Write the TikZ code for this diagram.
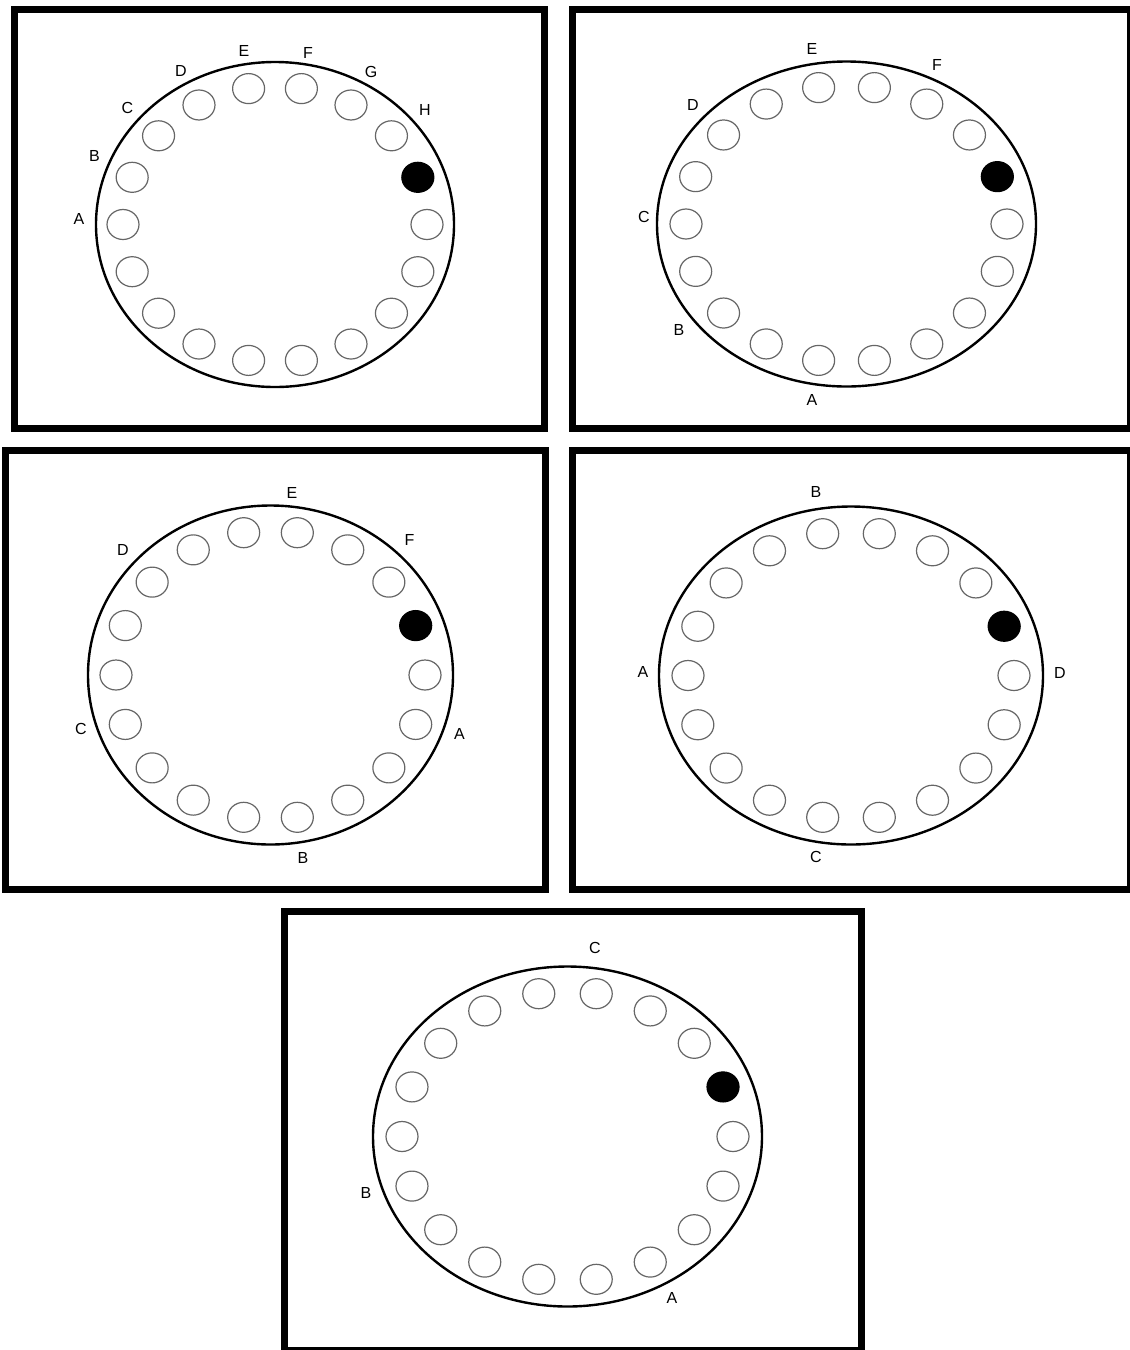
\documentclass[tikz,border=0pt]{standalone}
\usepackage{fontspec}
\setmainfont{Liberation Sans}
\usetikzlibrary{shapes.geometric}
\begin{document}
\begin{tikzpicture}[x=1pt, y=-1pt, font=\fontsize{16}{19}\selectfont,
    frame/.style={line width=7pt},
    rim/.style={line width=2.4pt},
    hole/.style={ellipse, draw=black!60, line width=1.2pt, minimum width=32pt, minimum height=30pt, inner sep=0pt},
    shot/.style={hole, draw=black, fill=black}]
  \useasboundingbox[fill=white] (0,0) rectangle (1130,1350);
  \foreach \p/\l/\t/\r/\b/\cx/\cy/\ex/\ey/\hx/\hy in {1/14.5/9.5/544.5/428/275/224.5/179/162.5/152/138, 2/572.5/9.5/1130.5/428/846.5/224/189.5/162.5/160.5/138.5, 3/5.5/450.5/545.5/889/270.5/675/182.5/169.5/154.5/144.5, 4/572/450.5/1130.5/889/851/675.5/192/169/163/144, 5/284.5/911.5/861/1350.5/567.5/1136.5/194.5/170/165.5/145} {
    \draw[frame] (\l,\t) rectangle (\r,\b);
    \draw[rim] (\cx,\cy) ellipse [x radius=\ex, y radius=\ey];
    \foreach \a in {0,40,60,...,340}
      \node[hole] (h\p-\a) at ({\cx+\hx*cos(\a)},{\cy-\hy*sin(\a)}) {};
    \node[shot] (h\p-20) at ({\cx+\hx*cos(20)},{\cy-\hy*sin(20)}) {};
  }
  \foreach \p/\n/\x/\y in {1/A/79/219, 1/B/94.5/156, 1/C/127.5/108, 1/D/181/70.5, 1/E/244/50.5, 1/F/308/53, 1/G/371/72, 1/H/425/110,
      2/E/812/49, 2/F/937/65, 2/D/693/105, 2/C/644/217, 2/B/679/330, 2/A/812/400,
      3/E/292/493, 3/F/409.5/540, 3/D/123/550, 3/C/81/729, 3/A/459.5/734, 3/B/303/858,
      4/B/816/492, 4/A/643/672, 4/D/1060/673, 4/C/816/857,
      5/C/595/948, 5/B/366/1193, 5/A/672/1298}
    \node[inner sep=0pt] (l\p\n) at (\x,\y) {\n};
\end{tikzpicture}
\end{document}
